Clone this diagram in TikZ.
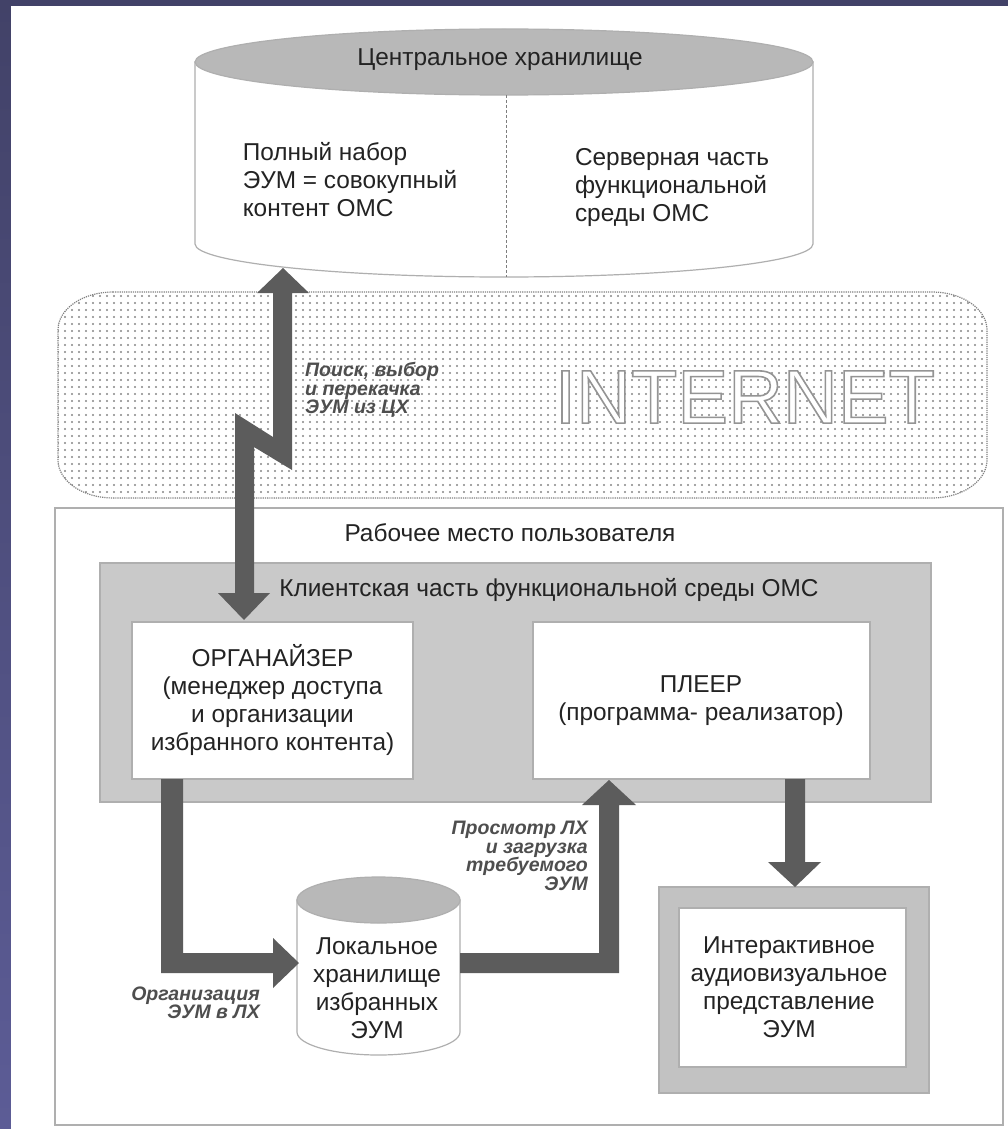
\documentclass[tikz,border=0pt]{standalone}
\usepackage{fontspec}
\setmainfont{Liberation Sans}
\usetikzlibrary{calc,patterns.meta}
\definecolor{bluetop}{RGB}{66,66,104}
\definecolor{bluebot}{RGB}{92,92,150}
\definecolor{arrowgray}{RGB}{92,92,92}
\definecolor{boxgray}{RGB}{201,201,201}
\definecolor{framegray}{RGB}{194,194,194}
\definecolor{linegray}{RGB}{175,175,175}
\definecolor{endgray}{RGB}{184,184,184}
\definecolor{labelgray}{RGB}{78,78,78}
\definecolor{textdark}{RGB}{35,35,35}
\newcommand\myoutlined[1]{\textcolor{white}{\special{pdf:literal direct 2 Tr 1.6 w 0.58 0.58 0.58 RG}#1\special{pdf:literal direct 0 Tr}}}
\begin{document}
\begin{tikzpicture}[x=1pt,y=-1pt,
  txt/.style={font=\fontsize{24.4}{28}\selectfont, text=textdark, align=center, inner sep=0pt},
  lbl/.style={font=\fontsize{19.5}{18.5}\selectfont\bfseries\itshape, text=labelgray, inner sep=0pt},
  inetfont/.style={font=\fontsize{76}{76}\selectfont, inner sep=0pt},
  wbox/.style={draw=linegray, line width=1.2pt, fill=white},
  blockarrow/.style={fill=arrowgray, draw=none}]
\useasboundingbox (0,0) rectangle (1008,1129);
% background
\shade[top color=bluetop, bottom color=bluebot] (0,0) rectangle (1008,1129);
\fill[white] (11,6) rectangle (1008,1129);

% ---------- central storage cylinder ----------
\path[wbox] (195,62) -- (195,244) arc[start angle=180, end angle=360, x radius=309pt, y radius=33pt] -- (813,62) -- cycle;
\draw[linegray, line width=1.2pt, fill=endgray] (504,62) ellipse [x radius=309pt, y radius=33pt];
\draw[arrowgray!80, line width=1pt, dash pattern=on 3pt off 2pt] (506,95) -- (506,277);
\node[txt] (cstitle) at (500,60) {Центральное хранилище};
\node[txt, align=left] (csleft) at (350,180) {Полный набор\\ЭУМ = совокупный\\контент ОМС};
\node[txt, align=left] (csright) at (672,188) {Серверная часть\\функциональной\\среды ОМС};
\coordinate (csbottom) at (283,268);

% ---------- Internet ----------
\path[draw=gray, densely dotted, line width=1.2pt, pattern={Dots[distance=6.5pt, radius=1.15pt]}, pattern color=gray!95]
  (113,292) -- (932,292) arc[start angle=90, end angle=0, x radius=55pt, y radius=38pt]
  -- (987,460) arc[start angle=0, end angle=-90, x radius=55pt, y radius=38pt]
  -- (113,498) arc[start angle=270, end angle=180, x radius=55pt, y radius=38pt]
  -- (58,330) arc[start angle=180, end angle=90, x radius=55pt, y radius=38pt] -- cycle;
\node[inetfont] (inet) at (745,397) {\myoutlined{INTERNET}};

% ---------- workplace ----------
\draw[linegray, line width=1.5pt] (55,508) rectangle (1003,1125);
\node[txt] (wp) at (510,533) {Рабочее место пользователя};

% client part
\draw[draw=linegray, fill=boxgray, line width=1.2pt] (100,563) rectangle (931,802);
\node[txt] (client) at (549,590) {Клиентская часть функциональной среды ОМС};

\node[wbox, minimum width=281pt, minimum height=157pt] (orgbox) at (272.5,700.5) {};
\node[txt] (org) at (orgbox.center) {ОРГАНАЙЗЕР\\(менеджер доступа\\и организации\\избранного контента)};

\node[wbox, minimum width=337pt, minimum height=157pt] (plbox) at (701.5,700.5) {};
\node[txt] (player) at (701,701) {ПЛЕЕР\\(программа- реализатор)};

% local storage cylinder
\path[wbox] (297,900) -- (297,1032) arc[start angle=180, end angle=360, x radius=81.5pt, y radius=23pt] -- (460,900) -- cycle;
\draw[linegray, line width=1.2pt, fill=endgray] (378.5,900) ellipse [x radius=81.5pt, y radius=23pt];
\node[txt] (local) at (377,988.5) {Локальное\\хранилище\\избранных\\ЭУМ};

% interactive presentation
\draw[draw=linegray, fill=framegray, line width=1.2pt] (659,887) rectangle (929,1093);
\node[wbox, minimum width=227pt, minimum height=159pt] (intbox) at (792.5,987.5) {};
\node[txt] (inter) at (789,987) {Интерактивное\\аудиовизуальное\\представление\\ЭУМ};

% ---------- block arrows ----------
% lightning arrow: central storage <-> organizer
\fill[blockarrow] (csbottom) -- (309,293) -- (292,293) -- (292,470) -- (254,447) -- (254,593)
  -- (270,593) -- (244,620) -- (218,593) -- (235,593) -- (235,413) -- (273,437)
  -- (273,293) -- (257,293) -- cycle;
% organizer -> local storage
\fill[blockarrow] (161,779) -- (161,973) -- (273,973) -- (273,988) -- (299,963) -- (273,938)
  -- (273,953) -- (183,953) -- (183,779) -- cycle;
% local storage -> player
\fill[blockarrow] (460,953) -- (460,973) -- (619,973) -- (619,805) -- (636,805) -- (609,780)
  -- (582,805) -- (599,805) -- (599,953) -- cycle;
% player -> interactive
\fill[blockarrow] (785,779) -- (785,862) -- (768,862) -- (795,887) -- (821,862) -- (805,862)
  -- (805,779) -- cycle;

% ---------- arrow labels ----------
\node[lbl, align=left, anchor=west] (l1) at (305,390) {Поиск, выбор\\и перекачка\\ЭУМ из ЦХ};
\node[lbl, align=right, anchor=east] (l2) at (260,1003) {Организация\\ЭУМ в ЛХ};
\node[lbl, align=right, anchor=east] (l3) at (588,856) {Просмотр ЛХ\\и загрузка\\требуемого\\ЭУМ};
\end{tikzpicture}
\end{document}
